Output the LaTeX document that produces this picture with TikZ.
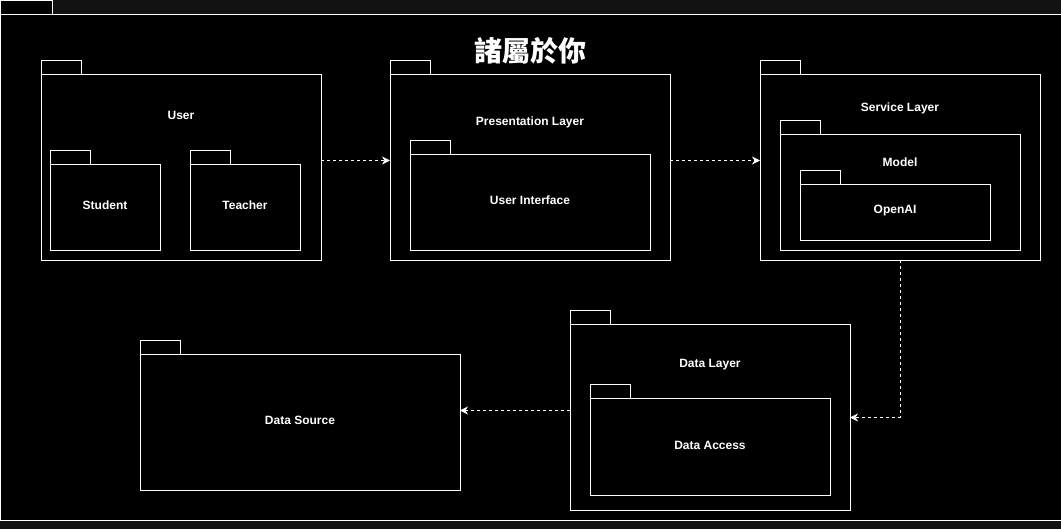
\documentclass[tikz,border=0pt]{standalone}
\usepackage{fontspec}
\setmainfont{Liberation Sans}
\newfontfamily\cjk{Noto Sans CJK TC}
\usetikzlibrary{arrows.meta}
\definecolor{bgc}{HTML}{121212}
\tikzset{
  wline/.style={draw=white, line width=1pt},
  pkgbody/.style={wline, fill=black, inner sep=0pt, outer sep=0pt, anchor=north west},
  pkgtab/.style={wline, fill=black},
  lbl/.style={text=white, font=\bfseries\fontsize{12}{14}\selectfont, inner sep=0pt},
  dep/.style={draw=white, line width=1pt, dash pattern=on 3pt off 3pt, -{Stealth[length=8pt,width=8pt,inset=2.5pt]}},
}
\newcommand\pkgbox[5]{% name, x, ytop, w, h
  \draw[pkgtab] (#2,#3+0.5) rectangle (#2+40,#3-13.5);
  \node[pkgbody, minimum width=#4pt, minimum height=#5pt] (#1) at (#2,#3+0.5) {};
}
\begin{document}
\begin{tikzpicture}[x=1pt,y=-1pt]
\fill[bgc] (0,0) rectangle (1061,529);
\useasboundingbox (0,0) rectangle (1061,529);
% outer frame
\draw[pkgtab] (0.5,14.5) rectangle (52,0.5);
\node[pkgbody, minimum width=1070pt, minimum height=506pt] (frame) at (0.5,14.5) {};
\node[text=white, font=\cjk\bfseries\fontsize{28}{32}\selectfont, inner sep=0pt] (title) at (530,51) {諸屬於你};
% User
\pkgbox{user}{41}{74}{280}{186}
\node[lbl] (userL) at (181,115) {User};
\pkgbox{student}{50}{164}{110}{86}
\node[lbl] (studentL) at (105,205) {Student};
\pkgbox{teacher}{190}{164}{110}{86}
\node[lbl] (teacherL) at (245,205) {Teacher};
% Presentation
\pkgbox{pres}{390}{74}{280}{186}
\node[lbl] (presL) at (530,122) {Presentation Layer};
\pkgbox{ui}{410}{154}{240}{96}
\node[lbl] (uiL) at (530,200) {User Interface};
% Service
\pkgbox{serv}{760}{74}{280}{186}
\node[lbl] (servL) at (900,108) {Service Layer};
\pkgbox{model}{780}{134}{240}{116}
\node[lbl] (modelL) at (900,162) {Model};
\pkgbox{openai}{800}{184}{190}{56}
\node[lbl] (openaiL) at (895,211) {OpenAI};
% Data layer
\pkgbox{dl}{570}{324}{280}{186}
\node[lbl] (dlL) at (710,365) {Data Layer};
\pkgbox{da}{590}{398}{240}{97}
\node[lbl] (daL) at (710,445) {Data Access};
% Data source
\pkgbox{ds}{140}{354}{320}{136}
\node[lbl] (dsL) at (300,420) {Data Source};
% connectors
\draw[dep] (user.east |- 0,160.5) -- (pres.west |- 0,160.5);
\draw[dep] (pres.east |- 0,160.5) -- (serv.west |- 0,160.5);
\draw[dep] (serv.south) |- (dl.east);
\draw[dep] (dl.west |- 0,410.5) -- (ds.east |- 0,410.5);
\end{tikzpicture}
\end{document}
